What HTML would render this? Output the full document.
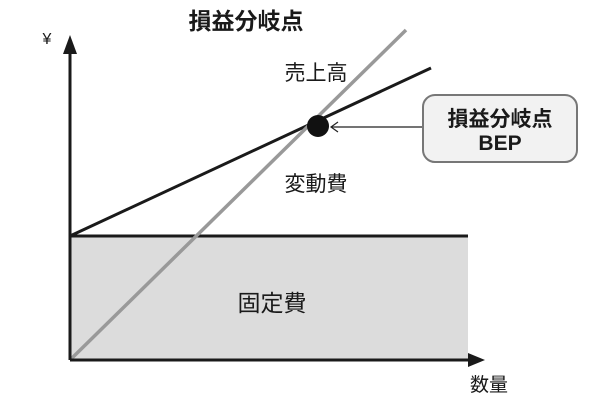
<!DOCTYPE html>
<html><head><meta charset="utf-8"><style>
html,body{margin:0;padding:0;background:#fff;}
svg{display:block;}
text{font-family:"Liberation Sans","Noto Sans CJK JP",sans-serif;}
</style></head><body>
<svg width="600" height="401" viewBox="0 0 600 401">
<rect x="71" y="236" width="397" height="124" fill="#dcdcdc"/>
<line x1="70" y1="236" x2="468" y2="236" stroke="#1a1a1a" stroke-width="3"/>
<line x1="70" y1="236" x2="431" y2="68" stroke="#1a1a1a" stroke-width="3"/>
<line x1="70" y1="360" x2="406" y2="30" stroke="#999" stroke-width="3.5"/>
<line x1="70" y1="360" x2="70" y2="52" stroke="#1a1a1a" stroke-width="3"/>
<polygon points="70,35 63,54 77,54" fill="#1a1a1a"/>
<line x1="70" y1="360" x2="470" y2="360" stroke="#1a1a1a" stroke-width="3"/>
<polygon points="485,360 468,353 468,367" fill="#1a1a1a"/>
<circle cx="318" cy="126" r="11" fill="#111"/>
<line x1="423" y1="127" x2="332" y2="127" stroke="#222" stroke-width="1.2"/>
<polyline points="338,122 331,127 338,132" fill="none" stroke="#222" stroke-width="1.2"/>
<rect x="423" y="95" width="154" height="67" rx="12" fill="#f2f2f2" stroke="#777" stroke-width="2"/>
<text x="500" y="126" font-size="21" font-weight="bold" text-anchor="middle" fill="#1a1a1a">損益分岐点</text>
<text x="500" y="150" font-size="21" font-weight="bold" text-anchor="middle" fill="#1a1a1a">BEP</text>
<text x="246" y="29" font-size="23" font-weight="bold" text-anchor="middle" fill="#1a1a1a">損益分岐点</text>
<text x="47" y="44" font-size="16" text-anchor="middle" fill="#1a1a1a">¥</text>
<text x="316" y="80" font-size="21" text-anchor="middle" fill="#1a1a1a">売上高</text>
<text x="316" y="191" font-size="21" text-anchor="middle" fill="#1a1a1a">変動費</text>
<text x="272" y="311" font-size="23" text-anchor="middle" fill="#1a1a1a">固定費</text>
<text x="489" y="391" font-size="19" text-anchor="middle" fill="#1a1a1a">数量</text>
</svg>
</body></html>
